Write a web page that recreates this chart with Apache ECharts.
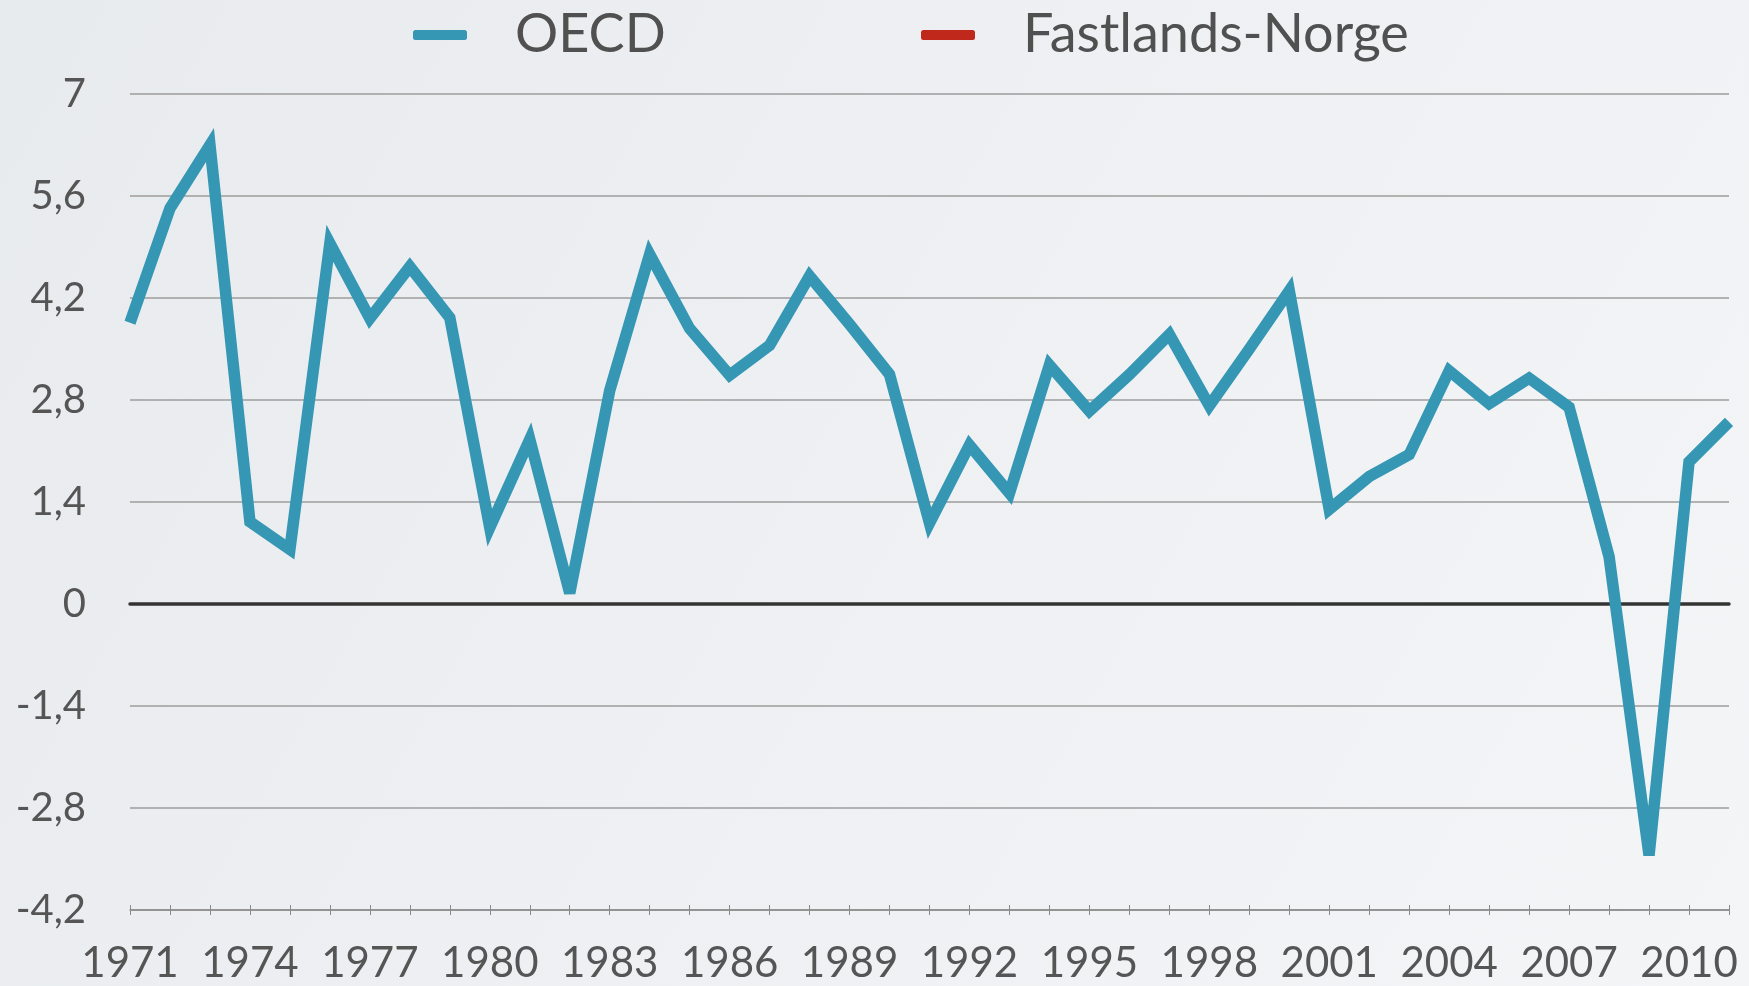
<!DOCTYPE html>
<html>
<head>
<meta charset="utf-8">
<title>OECD</title>
<script src="https://cdn.jsdelivr.net/npm/echarts@6/dist/echarts.min.js"></script>
<style>
  html, body { margin: 0; padding: 0; }
  #main { width: 1749px; height: 986px; }
</style>
</head>
<body>
<div id="main"></div>
<script>
  let years = ['1971', '1972', '1973', '1974', '1975', '1976', '1977', '1978', '1979', '1980',
               '1981', '1982', '1983', '1984', '1985', '1986', '1987', '1988', '1989', '1990',
               '1991', '1992', '1993', '1994', '1995', '1996', '1997', '1998', '1999', '2000',
               '2001', '2002', '2003', '2004', '2005', '2006', '2007', '2008', '2009', '2010', '2011']
  let oecd = [3.86, 5.43, 6.3, 1.13, 0.75, 4.95, 3.92, 4.63, 3.93, 1.05,
              2.26, 0.15, 2.93, 4.8, 3.78, 3.14, 3.55, 4.5, 3.84, 3.15,
              1.11, 2.18, 1.52, 3.28, 2.65, 3.15, 3.7, 2.72, 3.5, 4.3,
              1.3, 1.75, 2.05, 3.2, 2.75, 3.1, 2.7, 0.65, -3.45, 1.95, 2.5]
  // Fastlands-Norge is only in the legend, no line is drawn for it
  let fastlandsNorge = []
  let yTicks = [-4.2, -2.8, -1.4, 0, 1.4, 2.8, 4.2, 5.6, 7]

  let font = 'Lato, sans-serif'
  let myChart = echarts.init(document.getElementById('main'))

  function legendAt(name, left) {
    return {
      data: [name],
      left: left,
      top: 8,
      padding: 0,
      icon: 'roundRect',
      itemWidth: 54,
      itemHeight: 10,
      selectedMode: false,
      textStyle: {
        fontFamily: font,
        fontSize: 54,
        lineHeight: 54,
        color: '#505050',
        padding: [0, 0, 0, 43]
      }
    }
  }

  let option = {
    backgroundColor: new echarts.graphic.LinearGradient(0, 0, 1, 1, [
      {offset: 0, color: '#e8ebee'},
      {offset: 1, color: '#f4f5f7'}
    ]),
    animation: false,
    legend: [legendAt('OECD', 413), legendAt('Fastlands-Norge', 921)],
    grid: {
      left: 130,
      right: 20,
      top: 94,
      bottom: 76,
      containLabel: false,
      outerBoundsMode: 'none'
    },
    xAxis: [
      {
        type: 'category',
        data: years,
        boundaryGap: false,
        position: 'bottom',
        axisLine: {onZero: false, lineStyle: {color: '#8a8a8a', width: 1.5}},
        axisTick: {interval: 0, length: 5, lineStyle: {color: '#8a8a8a'}},
        axisLabel: {
          interval: 2,
          margin: 32,
          fontFamily: font,
          fontSize: 42,
          color: '#555'
        },
        splitLine: {show: false}
      },
      {
        // dark zero line
        type: 'category',
        data: years,
        boundaryGap: false,
        position: 'bottom',
        axisLine: {onZero: true, lineStyle: {color: '#333', width: 3.5}},
        axisTick: {show: false},
        axisLabel: {show: false},
        splitLine: {show: false}
      },
      {
        // ticks going up from the bottom axis too
        type: 'category',
        data: years,
        boundaryGap: false,
        position: 'bottom',
        axisLine: {show: false, onZero: false},
        axisTick: {inside: true, interval: 0, length: 5, lineStyle: {color: '#8a8a8a'}},
        axisLabel: {show: false},
        splitLine: {show: false}
      }
    ],
    yAxis: {
      type: 'value',
      min: yTicks[0],
      max: yTicks[yTicks.length - 1],
      interval: 1.4,
      axisLine: {show: false},
      axisTick: {show: false},
      axisLabel: {
        margin: 44,
        fontFamily: font,
        fontSize: 40,
        color: '#555',
        formatter: function (v) {
          return String(Math.round(v * 10) / 10).replace('.', ',')
        }
      },
      splitLine: {lineStyle: {color: '#9c9c9c', width: 1.5}}
    },
    series: [
      {
        name: 'OECD',
        type: 'line',
        color: '#3597b4',
        data: oecd,
        symbol: 'none',
        lineStyle: {width: 11.5, color: '#3597b4', join: 'miter', miterLimit: 4, cap: 'butt'}
      },
      {
        name: 'Fastlands-Norge',
        type: 'line',
        color: '#c0281c',
        data: fastlandsNorge,
        symbol: 'none',
        lineStyle: {width: 11, color: '#c0281c'}
      }
    ]
  }
  myChart.setOption(option)
</script>
</body>
</html>
